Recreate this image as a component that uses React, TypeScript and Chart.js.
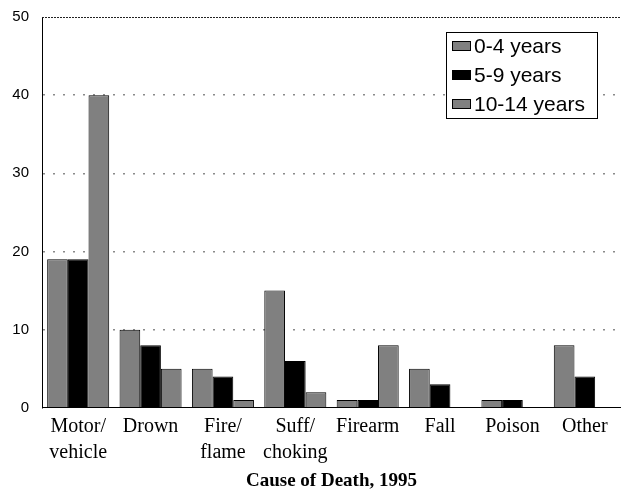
import React, { useEffect, useRef } from 'react';
import { Chart, registerables } from 'chart.js';

Chart.register(...registerables);

const categories: (string | string[])[] = [
  ['Motor/', 'vehicle'],
  'Drown',
  ['Fire/', 'flame'],
  ['Suff/', 'choking'],
  'Firearm',
  'Fall',
  'Poison',
  'Other',
];
const seriesNames = ['0-4 years', '5-9 years', '10-14 years'];
const seriesColors = ['#808080', '#000000', '#808080'];
const age0to4 = [19, 10, 5, 15, 1, 5, 1, 8];
const age5to9 = [19, 8, 4, 6, 1, 3, 1, 4];
const age10to14 = [40, 5, 1, 2, 8, 0, 0, 0];
const yMin = 0;
const yMax = 50;
const yStep = 10;
const xTitle = 'Cause of Death, 1995';

const topLinePlugin = {
  id: 'topLine',
  beforeDatasetsDraw(chart: any) {
    const { ctx, chartArea, scales } = chart;
    const y = Math.round(scales.y.getPixelForValue(yMax)) + 0.5;
    ctx.save();
    ctx.strokeStyle = '#222';
    ctx.lineWidth = 1;
    ctx.setLineDash([2, 1]);
    ctx.beginPath();
    ctx.moveTo(chartArea.left, y);
    ctx.lineTo(chartArea.right, y);
    ctx.stroke();
    ctx.restore();
  },
};

const boxLegendPlugin = {
  id: 'boxLegend',
  afterDraw(chart: any) {
    const { ctx } = chart;
    const left = 446.5;
    const top = 32.5;
    const w = 151;
    const h = 86;
    ctx.save();
    ctx.fillStyle = '#fff';
    ctx.fillRect(left, top, w, h);
    ctx.strokeStyle = '#000';
    ctx.lineWidth = 1;
    ctx.setLineDash([]);
    ctx.strokeRect(left, top, w, h);
    ctx.font = '21px "Liberation Sans", Arial, sans-serif';
    ctx.textBaseline = 'middle';
    ctx.textAlign = 'left';
    chart.data.datasets.forEach((ds: any, i: number) => {
      const cy = 46 + i * 29;
      ctx.fillStyle = ds.backgroundColor;
      ctx.fillRect(452.5, cy - 4.5, 18, 9);
      ctx.strokeStyle = '#000';
      ctx.strokeRect(452.5, cy - 4.5, 18, 9);
      ctx.fillStyle = '#000';
      ctx.fillText(ds.label, 474, cy + 1);
    });
    ctx.restore();
  },
};

export default function App() {
  const canvasRef = useRef<HTMLCanvasElement | null>(null);

  useEffect(() => {
    if (!canvasRef.current) return;
    const seriesValues = [age0to4, age5to9, age10to14];
    const chart = new Chart(canvasRef.current, {
      type: 'bar',
      data: {
        labels: categories,
        datasets: seriesNames.map((name, i) => ({
          label: name,
          data: seriesValues[i],
          backgroundColor: seriesColors[i],
          borderColor: '#000',
          borderWidth: 1,
          categoryPercentage: 0.857,
          barPercentage: 1,
        })),
      },
      options: {
        responsive: false,
        animation: false,
        layout: { padding: { top: 17, left: 0, right: 0, bottom: 0 } },
        plugins: {
          legend: { display: false },
          tooltip: { enabled: false },
          title: { display: false },
        },
        scales: {
          x: {
            grid: { display: false, drawTicks: false },
            border: { display: true, color: '#000', width: 1 },
            ticks: {
              color: '#000',
              font: { family: '"Liberation Serif", "Times New Roman", serif', size: 20, lineHeight: 1.3 },
              padding: 6,
              maxRotation: 0,
              autoSkip: false,
            },
            title: {
              display: true,
              text: xTitle,
              color: '#000',
              font: { family: '"Liberation Serif", "Times New Roman", serif', size: 19, weight: 'bold', lineHeight: 0.8 },
              padding: { top: 2, bottom: 0 },
            },
          },
          y: {
            min: yMin,
            max: yMax,
            afterFit: (s: any) => {
              s.width = 42;
              s.paddingTop = 9;
              s.paddingBottom = 9;
            },
            ticks: {
              stepSize: yStep,
              color: '#000',
              font: { family: '"Liberation Sans", Arial, sans-serif', size: 15 },
              padding: 13,
            },
            grid: {
              drawTicks: false,
              color: (ctx: any) =>
                ctx.tick && (ctx.tick.value === yMin || ctx.tick.value === yMax) ? 'rgba(0,0,0,0)' : '#8a8a8a',
              lineWidth: 1.5,
            },
            border: { display: true, color: '#000', width: 1, dash: [2, 8] },
          },
        },
      },
      plugins: [topLinePlugin, boxLegendPlugin],
    });
    return () => chart.destroy();
  }, []);

  return (
    <div style={{ position: 'absolute', left: 0, top: 0, width: 621, height: 489, background: '#fff' }}>
      <canvas ref={canvasRef} width={621} height={489} style={{ display: 'block' }} />
    </div>
  );
}
